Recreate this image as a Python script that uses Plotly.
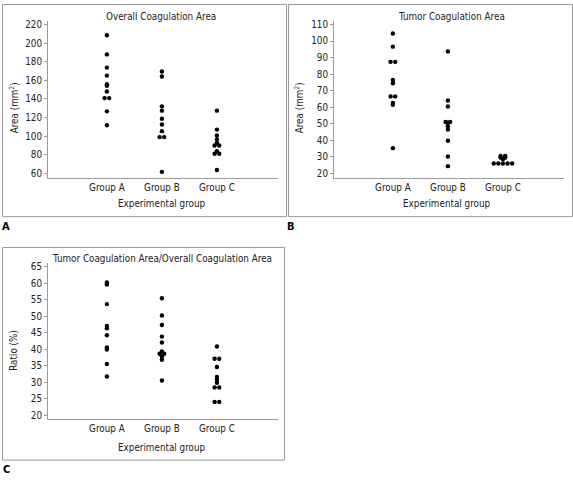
import plotly.graph_objects as go

W, H = 573, 480

groups = ["Group A", "Group B", "Group C"]

overall_a = [208.6, 187.9, 173.7, 165.1, 155.9, 154.1, 148.0, 140.9, 140.9, 126.6, 111.7]
overall_b = [169.5, 164.1, 132.0, 127.4, 118.6, 112.4, 105.3, 98.9, 98.9, 61.5]
overall_c = [127.4, 107.0, 100.6, 96.3, 92.7, 89.9, 89.9, 83.8, 81.0, 81.0, 63.5]

tumor_a = [104.6, 96.6, 87.4, 87.4, 76.5, 74.5, 66.5, 66.5, 62.5, 61.5, 35.2]
tumor_b = [93.7, 64.0, 60.4, 51.0, 51.0, 50.6, 48.5, 46.5, 39.7, 30.1, 24.3]
tumor_c = [30.5, 30.5, 29.5, 29.5, 28.5, 25.9, 25.9, 25.9, 25.9, 25.9]

ratio_a = [60.3, 59.7, 53.75, 47.1, 46.4, 44.3, 40.6, 40.0, 35.6, 31.8]
ratio_b = [55.5, 50.3, 47.4, 43.9, 42.1, 39.4, 38.7, 38.7, 37.9, 36.9, 30.6]
ratio_c = [40.9, 37.2, 37.2, 34.7, 31.7, 30.9, 29.9, 28.5, 28.5, 24.1, 24.1]

ticks_overall = [60, 80, 100, 120, 140, 160, 180, 200, 220]
ticks_tumor = [20, 30, 40, 50, 60, 70, 80, 90, 100, 110]
ticks_ratio = [20, 25, 30, 35, 40, 45, 50, 55, 60, 65]

titles = ["Overall Coagulation Area", "Tumor Coagulation Area",
          "Tumor Coagulation Area/Overall Coagulation Area"]
ytitles = ["Area (mm<sup>2</sup>)", "Area (mm<sup>2</sup>)", "Ratio (%)"]
xtitle = "Experimental group"
letters = ["A", "B", "C"]

FONT = "Liberation Sans Narrow, DejaVu Sans Condensed, Arial Narrow, sans-serif"
FS = 9.8
TXT = "#222222"
AX = "#9a9a9a"
XR = [-1.07, 3.11]
DOT_GAP_PX = 4.6

def px(x):
    return x / W

def py(y):
    return 1 - y / H

panels = [
    dict(data=[overall_a, overall_b, overall_c], ticks=ticks_overall, yr=[55, 224],
         xpx=(48, 278), ypx=(19, 177)),
    dict(data=[tumor_a, tumor_b, tumor_c], ticks=ticks_tumor, yr=[17.2, 112.2],
         xpx=(334, 564), ypx=(19, 177)),
    dict(data=[ratio_a, ratio_b, ratio_c], ticks=ticks_ratio, yr=[18.8, 66.1],
         xpx=(48, 278), ypx=(263, 420)),
]

fig = go.Figure()
layout = dict(width=W, height=H, margin=dict(l=0, r=0, t=0, b=0),
              paper_bgcolor="white", plot_bgcolor="white", showlegend=False,
              font=dict(family=FONT, size=FS, color=TXT))

for i, p in enumerate(panels):
    n = "" if i == 0 else str(i + 1)
    x_unit_px = (p["xpx"][1] - p["xpx"][0]) / (XR[1] - XR[0])
    gap = DOT_GAP_PX / x_unit_px
    xs, ys = [], []
    for gi, vals in enumerate(p["data"]):
        counts = {}
        for v in vals:
            counts[v] = counts.get(v, 0) + 1
        seen = {}
        for v in vals:
            k = seen.get(v, 0)
            seen[v] = k + 1
            off = (k - (counts[v] - 1) / 2) * gap
            xs.append(gi + off)
            ys.append(v)
    fig.add_trace(go.Scatter(x=xs, y=ys, mode="markers", xaxis="x" + n, yaxis="y" + n,
                             marker=dict(color="black", size=4.4, line=dict(width=0)),
                             hoverinfo="y"))
    layout["xaxis" + n] = dict(domain=[px(p["xpx"][0]), px(p["xpx"][1])], range=XR,
                               anchor="y" + n, tickvals=[0, 1, 2], ticktext=groups,
                               showline=True, linecolor=AX, linewidth=1, ticks="",
                               showgrid=False, zeroline=False,
                               tickfont=dict(size=FS, color=TXT, family=FONT))
    layout["yaxis" + n] = dict(domain=[py(p["ypx"][1]), py(p["ypx"][0])], range=p["yr"],
                               anchor="x" + n, tickvals=p["ticks"], showline=True,
                               linecolor=AX, linewidth=1, ticks="outside", ticklen=3,
                               tickcolor=AX, showgrid=False, zeroline=False,
                               tickfont=dict(size=FS, color=TXT, family=FONT))

boxes = [(2.5, 2.5, 286.5, 216), (288.5, 2.5, 572.5, 216), (2.5, 247, 284.5, 461)]
shapes = [dict(type="rect", xref="paper", yref="paper", x0=px(a), x1=px(c),
               y0=py(d), y1=py(b), line=dict(color=AX, width=1))
          for a, b, c, d in boxes]

ann = []
title_pos = [(161.5, 15), (451.5, 15), (162, 258)]
xt_pos = [(162, 203), (447, 203), (162, 448)]
yt_pos = [(14, 107), (299, 107), (14, 351)]
let_pos = [(6, 226), (291, 226), (6, 470)]
for i in range(3):
    ann.append(dict(text=titles[i], x=px(title_pos[i][0]), y=py(title_pos[i][1]),
                    xref="paper", yref="paper", showarrow=False,
                    xanchor="center", yanchor="middle", font=dict(size=FS)))
    ann.append(dict(text=xtitle, x=px(xt_pos[i][0]), y=py(xt_pos[i][1]),
                    xref="paper", yref="paper", showarrow=False,
                    xanchor="center", yanchor="middle", font=dict(size=FS)))
    ann.append(dict(text=ytitles[i], x=px(yt_pos[i][0]), y=py(yt_pos[i][1]),
                    xref="paper", yref="paper", showarrow=False, textangle=-90,
                    xanchor="center", yanchor="middle", font=dict(size=FS)))
    ann.append(dict(text="<b>" + letters[i] + "</b>", x=px(let_pos[i][0]), y=py(let_pos[i][1]),
                    xref="paper", yref="paper", showarrow=False,
                    xanchor="center", yanchor="middle", font=dict(size=11, color="black")))

layout["shapes"] = shapes
layout["annotations"] = ann
fig.update_layout(**layout)
fig.write_html("out.html", config={"displayModeBar": False},
               post_script="document.body.style.margin='0px';document.body.style.overflow='hidden';")
